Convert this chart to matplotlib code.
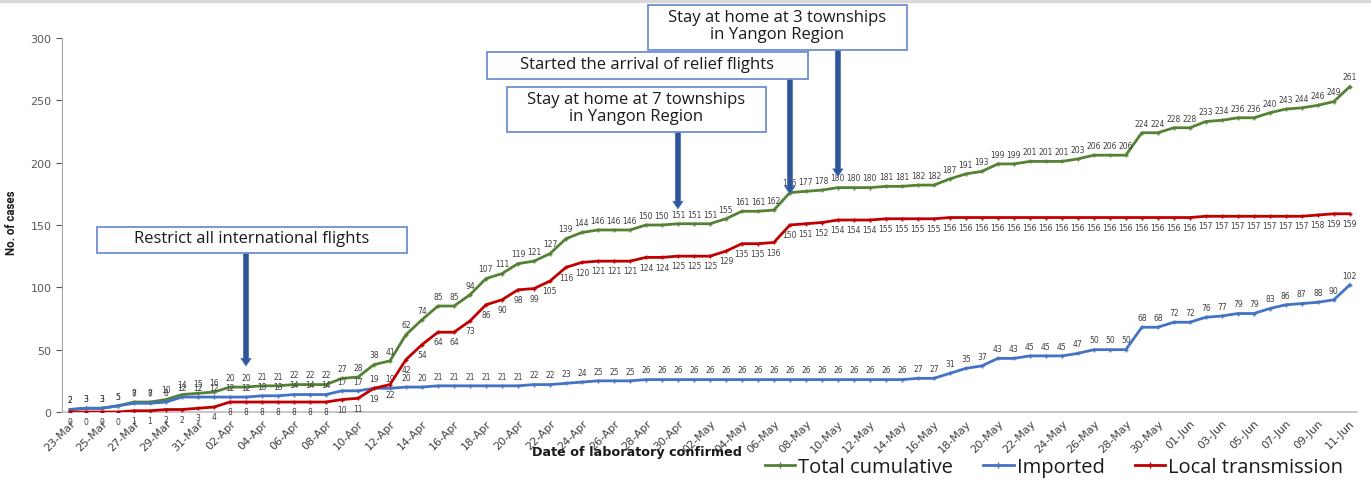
# COVID-19 cases by date of laboratory confirmation (Myanmar, 23-Mar to 11-Jun)

import numpy as np
import pandas as pd
import matplotlib
matplotlib.use("Agg")
import matplotlib.pyplot as plt
from matplotlib.patches import Rectangle
from matplotlib.lines import Line2D

dates = pd.date_range("2020-03-23", "2020-06-11", freq="D")
date_labels = [d.strftime("%d-%b") for d in dates]

total = [2, 3, 3, 5, 8, 8, 10, 14, 15,
         16, 20, 20, 21, 21, 22, 22, 22, 27, 28, 38, 41, 62, 74, 85, 85, 94, 107, 111, 119,
         121, 127, 139, 144, 146, 146, 146, 150, 150, 151,
         151, 151, 155, 161, 161, 162, 176, 177, 178, 180, 180, 180, 181, 181, 182, 182,
         187, 191, 193, 199, 199, 201, 201, 201, 203, 206, 206, 206, 224, 224, 228,
         228, 233, 234, 236, 236, 240, 243, 244, 246, 249, 261]

imported = [2, 3, 3, 5, 7, 7, 8, 12, 12,
            12, 12, 12, 13, 13, 14, 14, 14, 17, 17, 19, 19, 20, 20, 21, 21, 21, 21, 21, 21,
            22, 22, 23, 24, 25, 25, 25, 26, 26, 26,
            26, 26, 26, 26, 26, 26, 26, 26, 26, 26, 26, 26, 26, 26, 27, 27,
            31, 35, 37, 43, 43, 45, 45, 45, 47, 50, 50, 50, 68, 68, 72,
            72, 76, 77, 79, 79, 83, 86, 87, 88, 90, 102]

local = [0, 0, 0, 0, 1, 1, 2, 2, 3,
         4, 8, 8, 8, 8, 8, 8, 8, 10, 11, 19, 22, 42, 54, 64, 64, 73, 86, 90, 98,
         99, 105, 116, 120, 121, 121, 121, 124, 124, 125,
         125, 125, 129, 135, 135, 136, 150, 151, 152, 154, 154, 154, 155, 155, 155, 155,
         156, 156, 156, 156, 156, 156, 156, 156, 156, 156, 156, 156, 156, 156, 156,
         156, 157, 157, 157, 157, 157, 157, 157, 158, 159, 159]

# events: text, date pointed at, arrow tip value, box in pixels (left, top, right, bottom)
event_texts = ["Restrict all international flights",
               "Stay at home at 7 townships\nin Yangon Region",
               "Started the arrival of relief flights",
               "Stay at home at 3 townships\nin Yangon Region"]
event_dates = ["03-Apr", "30-Apr", "07-May", "10-May"]
event_tips = [37, 163, 175, 189]
event_boxes = [(97, 228, 407, 254), (507, 88, 766, 133),
               (487, 53, 808, 80), (648, 6, 907, 51)]

GREEN = "#548235"
BLUE = "#4472C4"
RED = "#C00000"
W, H = 1371, 481


def px(x, y):
    return x / W, 1 - y / H


def main():
    fig = plt.figure(figsize=(W / 100, H / 100), dpi=100)
    l, b = px(62, 413)
    r, t = px(1357, 39)
    ax = fig.add_axes([l, b, r - l, t - b])
    x = np.arange(len(dates))

    series = [(total, GREEN, "Total cumulative", 1),
              (imported, BLUE, "Imported", 1),
              (local, RED, "Local transmission", -1)]
    for vals, col, name, side in series:
        ax.plot(x, vals, color=col, lw=2, marker="+", ms=3.5, mew=1, label=name, zorder=3)
        for xi, v in zip(x, vals):
            ax.annotate(str(v), (xi, v), xytext=(0, 7 * side), textcoords="offset points",
                        ha="center", va="center", fontsize=5.5, color="#404040")

    ax.set_xlim(-0.5, 80.45)
    ax.set_ylim(0, 300)
    ax.set_yticks(range(0, 301, 50))
    ax.set_xticks(x[::2])
    ax.set_xticklabels(date_labels[::2], rotation=45, ha="right", rotation_mode="anchor")
    ax.tick_params(axis="x", length=0, labelsize=8, colors="#404040", pad=4)
    ax.tick_params(axis="y", length=4, labelsize=8, colors="#595959", width=0.8)
    for s in ["top", "right"]:
        ax.spines[s].set_visible(False)
    ax.spines["left"].set_color("#A6A6A6")
    ax.spines["bottom"].set_color("#BFBFBF")
    ax.spines["bottom"].set_linewidth(1.2)

    fig.text(*px(637, 453), "Date of laboratory confirmed", ha="center", va="center",
             fontsize=9.2, fontweight="bold", color="#1a1a1a")
    fig.text(*px(12, 223), "No. of cases", ha="center", va="center", rotation=90,
             fontsize=8.3, fontweight="bold", color="#1a1a1a",
             family=["Liberation Sans Narrow", "Roboto"])

    # event boxes and arrows
    for text, d, tip, box in zip(event_texts, event_dates, event_tips, event_boxes):
        x0, y0 = px(box[0], box[3])
        x1, y1 = px(box[2], box[1])
        fig.add_artist(Rectangle((x0, y0), x1 - x0, y1 - y0, transform=fig.transFigure,
                                 facecolor="white", edgecolor="#6E8FD3", lw=1.3, zorder=5))
        fig.text((x0 + x1) / 2, (y0 + y1) / 2 + 0.004, text, ha="center", va="center",
                 fontsize=12, family="Open Sans", color="#1a1a1a", zorder=6,
                 linespacing=1.1)
        xi = date_labels.index(d)
        ax.annotate("", xy=(xi, tip), xycoords="data",
                    xytext=(xi, y0), textcoords=("data", "figure fraction"),
                    arrowprops=dict(arrowstyle="simple,head_length=0.45,head_width=0.6,tail_width=0.3",
                                    mutation_scale=12, fc="#2F5597", ec="#4472C4", lw=0.6,
                                    shrinkA=0, shrinkB=0),
                    zorder=6, annotation_clip=False)

    handles = [Line2D([], [], color=c, lw=2, marker="+", ms=4, mew=1)
               for c in (GREEN, BLUE, RED)]
    fig.legend(handles, ["Total cumulative", "Imported", "Local transmission"],
               loc="center", bbox_to_anchor=px(1054, 468), ncol=3, frameon=False,
               prop={"family": "Open Sans", "size": 14.5}, handlelength=1.5,
               handletextpad=0.15, columnspacing=1.5, labelcolor="#1a1a1a",
               borderpad=0, borderaxespad=0)

    fig.add_artist(Line2D([0, 1], [1 - 1.5 / H] * 2, transform=fig.transFigure,
                          color="#D9D9D9", lw=2.5))

    fig.savefig("out.png", dpi=100)


if __name__ == "__main__":
    main()
